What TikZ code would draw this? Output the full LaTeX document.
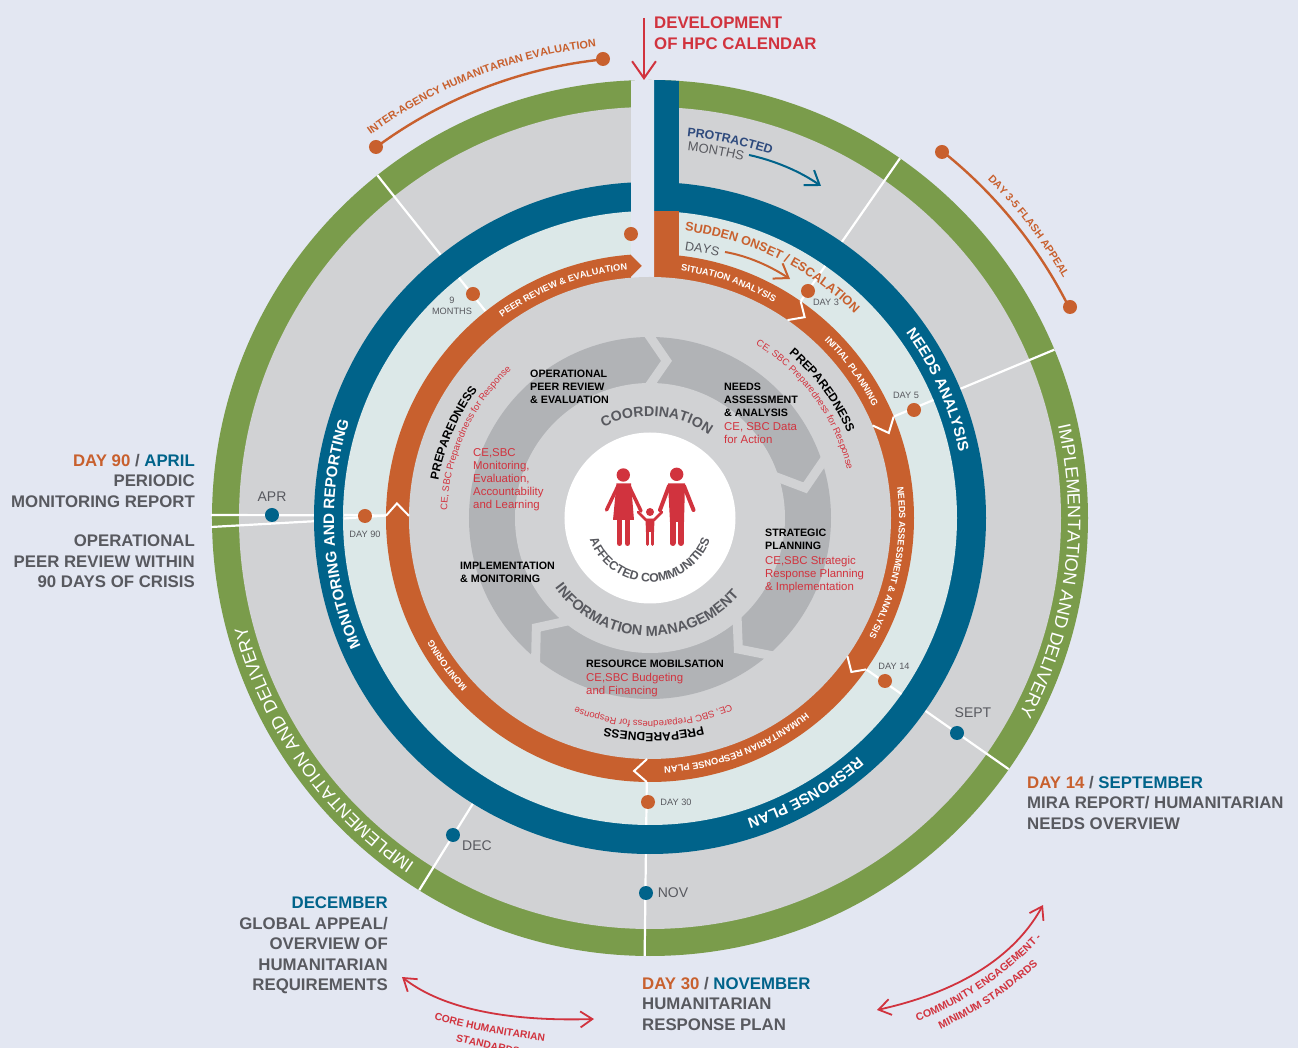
\documentclass[tikz,border=0pt]{standalone}
\usepackage{fontspec}
\setmainfont{Liberation Sans}
\usetikzlibrary{arrows.meta,decorations.text}

\definecolor{pagebg}{HTML}{E3E7F2}
\definecolor{ringgreen}{HTML}{7A9C4B}
\definecolor{ringgray}{HTML}{D1D2D4}
\definecolor{ringblue}{HTML}{00638A}
\definecolor{ringpale}{HTML}{DCE8E8}
\definecolor{ringorange}{HTML}{C8602E}
\definecolor{arrowgray}{HTML}{B1B3B6}
\definecolor{hpcred}{HTML}{D1333E}
\definecolor{labelgray}{HTML}{58595F}
\definecolor{navy}{HTML}{2E4A7D}

\newcommand{\fs}[2]{\fontsize{#1}{#2}\selectfont}
\newcommand{\cwtext}[4]{\path[bendtext={#3}{#4}] (#2+85:#1) arc[start angle=#2+85,end angle=#2-85,radius=#1];}
\newcommand{\ccwtext}[4]{\path[bendtext={#3}{#4}] (#2-85:#1) arc[start angle=#2-85,end angle=#2+85,radius=#1];}

\begin{document}
\begin{tikzpicture}
  [x=1pt,y=1pt,
   px/.style={shift={(-650,518)},y=-1pt},
   bendtext/.style 2 args={decorate,decoration={text along path,text align=center,text={|#1|#2}}},
   spoke/.style={draw=white,line width=2.2pt},
   daydot/.style={circle,fill=ringorange,minimum size=14pt,inner sep=0pt},
   monthdot/.style={circle,fill=ringblue,minimum size=14pt,inner sep=0pt},
   bigtext/.style={font=\fs{16.8}{20.4}\bfseries,text=labelgray,inner sep=0pt},
   phase/.style={font=\fs{10.7}{13}\bfseries,text=black,align=left,inner sep=0pt,anchor=north west},
   tool/.style={font=\fs{11.4}{13},text=hpcred,align=left,inner sep=0pt,anchor=north west},
   month/.style={font=\fs{14}{14},text=labelgray,inner sep=0pt},
   day/.style={font=\fs{9.2}{11},text=labelgray,inner sep=0pt,align=center},
   openhead/.style={-{Straight Barb[length=#1,width=1.4*#1]}},
   family/.style={line cap=round,draw=hpcred}]

  \useasboundingbox (-650,518) rectangle (648,-530);
  \fill[pagebg] (-650,518) rectangle (648,-530);

  \fill[ringgreen] (0,0) circle[radius=438];
  \fill[ringgray] (0,0) circle[radius=411];
  \foreach \ang in {55.2,22.6,-35,-90.7,238.2,128.5}
    \draw[spoke] (\ang:300) -- (\ang:438);
  \begin{scope}[px]
    \draw[spoke] (211,515) -- (386,515.5);
    \draw[spoke] (211,527) -- (345,519.5);
  \end{scope}

  \fill[ringblue] (0,0) circle[radius=336];
  \fill[ringpale] (0,0) circle[radius=307];
  \foreach \ang in {55.2,22.6,-35,-90.7,128.5}
    \draw[spoke] (\ang:260) -- (\ang:307);
  \begin{scope}[px]
    \draw[spoke] (344,515) -- (386,515.5);
    \draw[spoke] (344,518.5) -- (386,515.5);
  \end{scope}
  \fill[ringorange] (0,0) circle[radius=264];

  \begin{scope}[px]
    \clip (650,518) circle[radius=438];
    \fill[ringblue] (654,70) rectangle (679,212);
    \fill[ringorange] (654,211) rectangle (679,270);
    \fill[pagebg] (631,70) -- (631,255) -- (642,266) -- (631,277) -- (631,285) -- (654,285) -- (654,70) -- cycle;
  \end{scope}

  \fill[ringgray] (0,0) circle[radius=241];
  \foreach \ang/\back in {55.2/52.4,22.6/19.6,-35/-37.4,-90.7/-93.6,179.5/176.7}
    \draw[spoke,line width=2pt] (\ang:264) -- (\back:253.5) -- (\ang:241);

  \fill[arrowgray] (0,0) circle[radius=181];
  \foreach \ang/\back in {91/84,19/11,-48/-56,232/224}
    \draw[ringgray,line width=9pt] (\ang:186) -- (\back:158) -- (\ang:130);
  \fill[ringgray] (0,0) circle[radius=135];
  \fill[white] (0,0) circle[radius=85.5];

  % rings
  \cwtext{316}{24}{\fs{15}{15}\bfseries\color{white}}{NEEDS ANALYSIS}
  \cwtext{316}{-60.5}{\fs{15}{15}\bfseries\color{white}}{RESPONSE PLAN}
  \cwtext{316}{183}{\fs{15.2}{15}\bfseries\color{white}}{MONITORING AND REPORTING}
  \cwtext{418}{-7.6}{\fs{18}{18}\color{white}}{IMPLEMENTATION AND DELIVERY}
  \cwtext{418}{215.4}{\fs{18}{18}\color{white}}{IMPLEMENTATION AND DELIVERY}
  \cwtext{249}{71.5}{\fs{9.2}{9}\bfseries\color{white}}{SITUATION ANALYSIS}
  \cwtext{249}{36}{\fs{9.2}{9}\bfseries\color{white}}{INITIAL PLANNING}
  \cwtext{249}{-10.7}{\fs{9.1}{9}\bfseries\color{white}}{NEEDS ASSESSMENT {\&} ANALYSIS}
  \cwtext{249}{-69}{\fs{9.3}{9}\bfseries\color{white}}{HUMANITARIAN RESPONSE PLAN}
  \cwtext{249}{216}{\fs{9.2}{9}\bfseries\color{white}}{MONITORING}
  \cwtext{249}{110.8}{\fs{9.2}{9}\bfseries\color{white}}{PEER REVIEW {\&} EVALUATION}
  \cwtext{383}{78}{\fs{12.4}{13}\bfseries\color{navy}}{PROTRACTED}
  \cwtext{369}{79.8}{\fs{13}{14}\color{labelgray}}{MONTHS}
  \cwtext{289}{64}{\fs{12.6}{14}\bfseries\color{ringorange}}{SUDDEN ONSET / ESCALATION}
  \cwtext{270}{79}{\fs{12.6}{14}\color{labelgray}}{DAYS}

  \foreach \ang in {36.5,156.6,-89}{
    \cwtext{215}{\ang}{\fs{12}{12}\bfseries\color{black}}{PREPAREDNESS}
  }
  \foreach \ang in {36.2,155.5,-89}{
    \cwtext{203}{\ang}{\fs{9.5}{10}\color{hpcred}}{CE, SBC Preparedness for Response}
  }

  \cwtext{102}{86}{\fs{14.2}{15}\bfseries\color{labelgray}}{COORDINATION}
  \ccwtext{118}{267.8}{\fs{14.5}{15}\bfseries\color{labelgray}}{INFORMATION MANAGEMENT}
  \ccwtext{64}{270}{\fs{12.3}{12}\bfseries\color{labelgray}}{AFFECTED COMMUNITIES}

  \cwtext{474}{111.3}{\fs{10.9}{11}\bfseries\color{ringorange}}{INTER-AGENCY HUMANITARIAN EVALUATION}
  \cwtext{478}{37.6}{\fs{10.6}{11}\bfseries\color{ringorange}}{DAY 3-5 FLASH APPEAL}

  \draw[ringorange,line width=2.4pt] (126.4:461) arc[start angle=126.4,end angle=95.8,radius=461];
  \draw[ringorange,line width=2.4pt] (51.4:469) arc[start angle=51.4,end angle=26.7,radius=469];

  \begin{scope}[px]
    \node[daydot] (evalstart) at (376,147) {};
    \node[daydot] (evalend) at (603,59) {};
    \node[daydot] (flashstart) at (942,152) {};
    \node[daydot] (flashend) at (1070,307) {};

    \node[daydot] (gapdot) at (631,234) {};
    \node[daydot] (dotnine) at (473,294) {};
    \node[daydot] (dotninety) at (365,516) {};
    \node[daydot] (dotthree) at (808,291) {};
    \node[daydot] (dotfive) at (914,410) {};
    \node[daydot] (dotfourteen) at (885,681) {};
    \node[daydot] (dotthirty) at (648,802) {};
    \node[monthdot] (dotapr) at (272,515) {};
    \node[monthdot] (dotsept) at (957,733) {};
    \node[monthdot] (dotdec) at (453,835) {};
    \node[monthdot] (dotnov) at (646,893) {};

    \node[month] (apr) at (272,497) {APR};
    \node[month] (sept) at (973,713) {SEPT};
    \node[month] (dec) at (477,846) {DEC};
    \node[month] (nov) at (673,893) {NOV};
    \node[day] (nine) at (452,306) {9\\MONTHS};
    \node[day] (day3) at (826,302) {DAY 3};
    \node[day] (day5) at (906,395) {DAY 5};
    \node[day] (day14) at (894,666) {DAY 14};
    \node[day] (day90) at (365,534) {DAY 90};
    \node[day] (day30) at (676,802) {DAY 30};

    % white circle figures
    \fill[hpcred] (623.3,475) circle[radius=6.7];
    \fill[hpcred] (676.7,474.3) circle[radius=6.7];
    \fill[hpcred] (650,512) circle[radius=4];
    \fill[hpcred] (616.5,483.5) -- (631,483.5) -- (634,520) -- (613,520) -- cycle;
    \draw[family,line width=3.5pt] (618,486) -- (606.5,510);
    \draw[family,line width=3.5pt] (629,486) -- (641,511);
    \draw[family,line width=5pt] (619.5,520) -- (619.5,543.5);
    \draw[family,line width=5pt] (627.5,520) -- (627.5,543.5);
    \fill[hpcred] (668,483.5) -- (685,483.5) -- (684,522) -- (670,522) -- cycle;
    \draw[family,line width=4pt] (669,486) -- (660,510);
    \draw[family,line width=4pt] (684,486) -- (693.5,510);
    \draw[family,line width=6pt] (672.5,520) -- (672.5,543);
    \draw[family,line width=6pt] (681,520) -- (681,543);
    \draw[family,line width=2.5pt] (638,512) -- (646,520) -- (654,520) -- (662,512);
    \fill[hpcred] (645.5,519) -- (654.5,519) -- (654,532) -- (646,532) -- cycle;
    \draw[family,line width=3pt] (647.5,531) -- (647.5,544.5);
    \draw[family,line width=3pt] (652.5,531) -- (652.5,544.5);

    \node[phase] (opreview) at (530,370) {OPERATIONAL\\PEER REVIEW\\\& EVALUATION};
    \node[phase] (needs) at (724,383) {NEEDS\\ASSESSMENT\\\& ANALYSIS};
    \node[tool] (needstool) at (724,422) {CE, SBC Data\\for Action};
    \node[phase] (strategic) at (765,529) {STRATEGIC\\PLANNING};
    \node[tool] (strategictool) at (765,556) {CE,SBC Strategic\\Response Planning\\\& Implementation};
    \node[phase] (implement) at (460,562) {IMPLEMENTATION\\\& MONITORING};
    \node[phase] (resource) at (586,660) {RESOURCE MOBILSATION};
    \node[tool] (resourcetool) at (586,673) {CE,SBC Budgeting\\and Financing};
    \node[tool] (montool) at (473,448) {CE,SBC\\Monitoring,\\Evaluation,\\Accountability\\and Learning};

    \node[bigtext,text=hpcred,align=left,anchor=north west] (calendar) at (654,17) {DEVELOPMENT\\OF HPC CALENDAR};
    \node[bigtext,align=right,anchor=north east] (april) at (195,454) {{\color{ringorange}DAY 90} / {\color{ringblue}APRIL}\\PERIODIC\\MONITORING REPORT};
    \node[bigtext,align=right,anchor=north east] (peer) at (195,535) {OPERATIONAL\\PEER REVIEW WITHIN\\90 DAYS OF CRISIS};
    \node[bigtext,align=left,anchor=north west] (september) at (1027,776) {{\color{ringorange}DAY 14} / {\color{ringblue}SEPTEMBER}\\MIRA REPORT/ HUMANITARIAN\\NEEDS OVERVIEW};
    \node[bigtext,align=right,anchor=north east] (december) at (388,897) {{\color{ringblue}DECEMBER}\\GLOBAL APPEAL/\\OVERVIEW OF\\HUMANITARIAN\\REQUIREMENTS};
    \node[bigtext,align=left,anchor=north west] (november) at (642,977) {{\color{ringorange}DAY 30} / {\color{ringblue}NOVEMBER}\\HUMANITARIAN\\RESPONSE PLAN};

    \coordinate (topstart) at (644,18);
    \coordinate (topend) at (644,80);
    \draw[hpcred,line width=2pt,openhead=17pt] (topstart) -- (topend);
    \draw[ringblue,line width=2pt,openhead=13pt] (749,155) .. controls (772,160) and (798,170) .. (821,186);
    \draw[ringorange,line width=2pt,openhead=13pt] (725,252) .. controls (748,256) and (770,266) .. (790,279);
    \draw[hpcred,line width=1.8pt,{Straight Barb[length=12pt,width=16pt]}-{Straight Barb[length=12pt,width=16pt]}] (402,977) .. controls (450,1015) and (530,1021) .. (594,1019);
    \draw[hpcred,line width=1.8pt,{Straight Barb[length=12pt,width=16pt]}-{Straight Barb[length=12pt,width=16pt]}] (1043,905) .. controls (1010,965) and (945,995) .. (877,1010);

    \path[bendtext={\fs{10.3}{11}\bfseries\color{hpcred}}{CORE HUMANITARIAN}] (400,1009) .. controls (450,1027) and (520,1040) .. (580,1045);
    \path[bendtext={\fs{10.3}{11}\bfseries\color{hpcred}}{STANDARDS}] (420,1032) .. controls (455,1042) and (510,1054) .. (555,1062);
    \path[bendtext={\fs{10.6}{11}\bfseries\color{hpcred}}{COMMUNITY ENGAGEMENT -}] (895,1030) .. controls (960,1008) and (1010,975) .. (1058,920);
    \path[bendtext={\fs{10.6}{11}\bfseries\color{hpcred}}{MINIMUM STANDARDS}] (915,1040) .. controls (965,1020) and (1010,995) .. (1058,945);
  \end{scope}
\end{tikzpicture}
\end{document}
